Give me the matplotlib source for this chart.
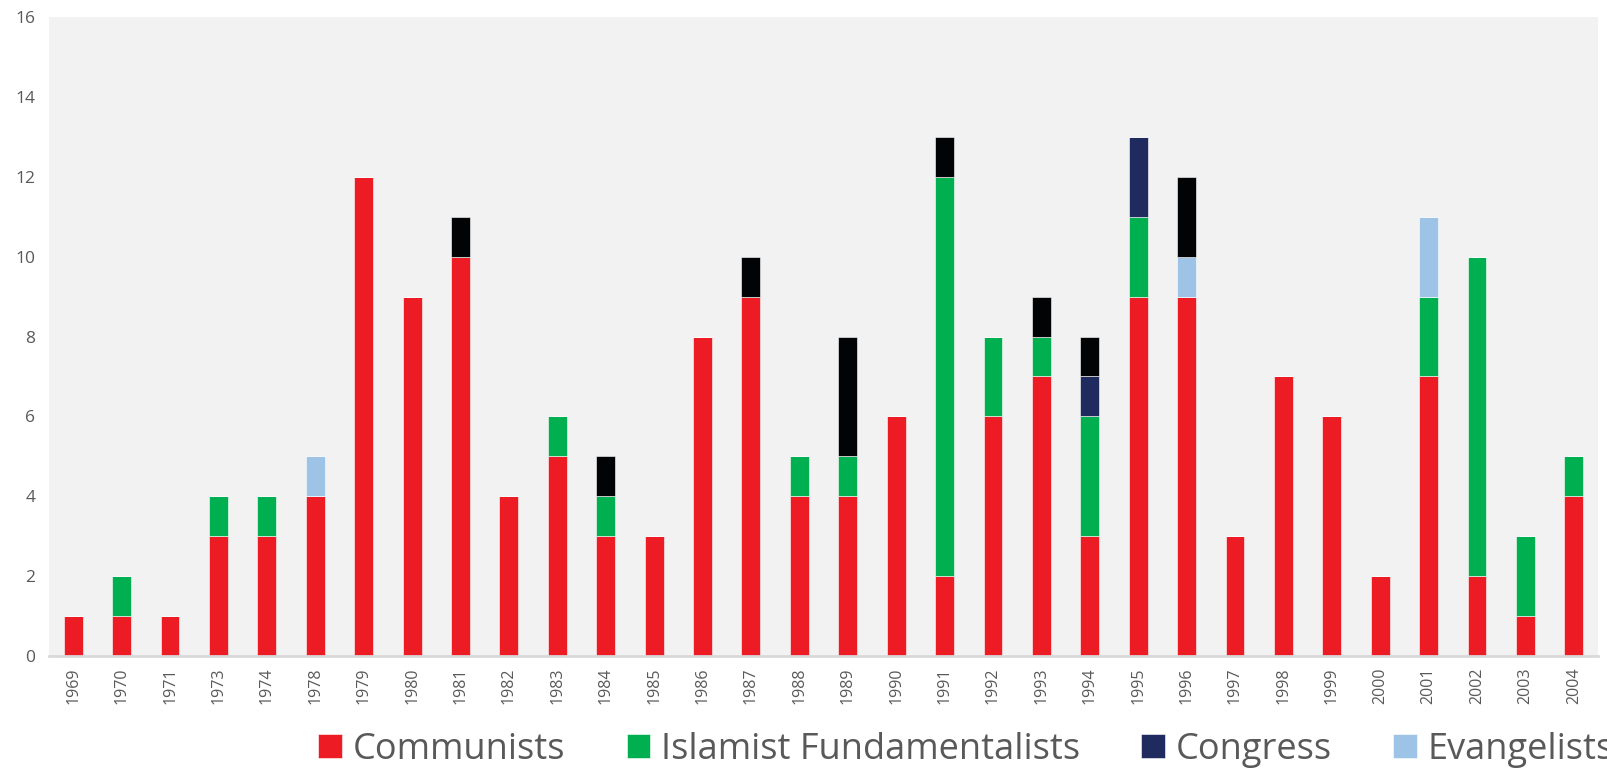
import numpy as np
import matplotlib.pyplot as plt

years = ['1969', '1970', '1971', '1973', '1974', '1978', '1979', '1980',
         '1981', '1982', '1983', '1984', '1985', '1986', '1987', '1988',
         '1989', '1990', '1991', '1992', '1993', '1994', '1995', '1996',
         '1997', '1998', '1999', '2000', '2001', '2002', '2003', '2004']

communists = [1, 1, 1, 3, 3, 4, 12, 9, 10, 4, 5, 3, 3, 8, 9, 4,
              4, 6, 2, 6, 7, 3, 9, 9, 3, 7, 6, 2, 7, 2, 1, 4]
islamists = [0, 1, 0, 1, 1, 0, 0, 0, 0, 0, 1, 1, 0, 0, 0, 1,
             1, 0, 10, 2, 1, 3, 2, 0, 0, 0, 0, 0, 2, 8, 2, 1]
congress = [0, 0, 0, 0, 0, 0, 0, 0, 0, 0, 0, 0, 0, 0, 0, 0,
            0, 0, 0, 0, 0, 1, 2, 0, 0, 0, 0, 0, 0, 0, 0, 0]
evangelists = [0, 0, 0, 0, 0, 1, 0, 0, 0, 0, 0, 0, 0, 0, 0, 0,
               0, 0, 0, 0, 0, 0, 0, 1, 0, 0, 0, 0, 2, 0, 0, 0]
others = [0, 0, 0, 0, 0, 0, 0, 0, 1, 0, 0, 1, 0, 0, 1, 0,
          3, 0, 1, 0, 1, 1, 0, 2, 0, 0, 0, 0, 0, 0, 0, 0]

series = [
    ('Communists', communists, '#ED1C24'),
    ('Islamist Fundamentalists', islamists, '#00B050'),
    ('Congress', congress, '#1F2A5E'),
    ('Evangelists', evangelists, '#9DC3E6'),
    ('Others', others, '#020304'),
]

text_grey = '#595959'
plt.rcParams['font.family'] = ['Open Sans', 'DejaVu Sans']

fig = plt.figure(figsize=(16.08, 7.73), dpi=100)
ax = fig.add_axes([0.0305, 0.1513, 0.9633, 0.8267])
ax.set_facecolor('#F2F2F2')

x = np.arange(len(years))
bottom = np.zeros(len(years))
handles = []
for name, vals, color in series:
    vals = np.array(vals, dtype=float)
    bars = ax.bar(x, vals, width=0.39, bottom=bottom, color=color, label=name,
                  edgecolor='#ffffff', linewidth=0.4)
    handles.append(bars)
    bottom += vals

ax.set_xlim(-0.5, len(years) - 0.5)
ax.set_ylim(0, 16)
ax.set_yticks(range(0, 17, 2))
ax.set_xticks(x)
ax.set_xticklabels(years, rotation=90)
ax.tick_params(axis='y', length=0, labelsize=12.5, colors=text_grey, pad=10)
ax.tick_params(axis='x', length=0, labelsize=11.5, colors=text_grey, pad=8)

for side in ['top', 'right', 'left']:
    ax.spines[side].set_visible(False)
ax.spines['bottom'].set_color('#D9D9D9')
ax.spines['bottom'].set_linewidth(2)

# legend runs past the right edge of the figure
fig.legend(handles=handles[:4], loc='center left',
           bbox_to_anchor=(0.198, 0.03), ncol=4,
           frameon=False, fontsize=26, labelcolor=text_grey,
           handlelength=0.65, handleheight=0.65, handletextpad=0.3,
           columnspacing=1.7, borderaxespad=0, borderpad=0)

fig.savefig('out.png', dpi=100)
